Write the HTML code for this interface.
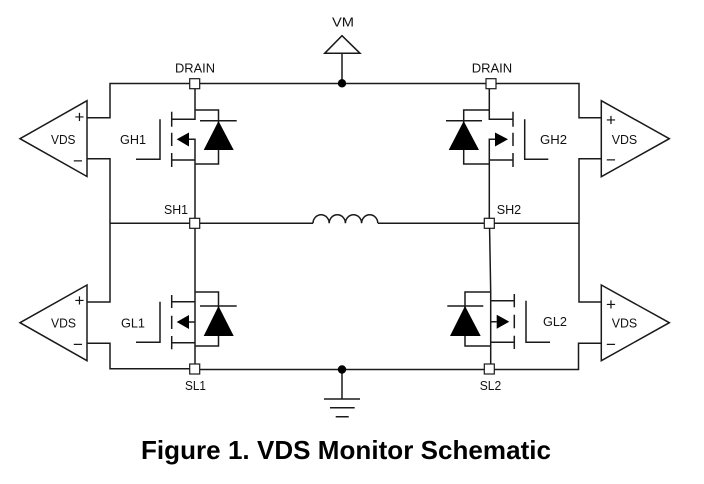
<!DOCTYPE html>
<html>
<head>
<meta charset="utf-8">
<style>
html,body{margin:0;padding:0;background:#fff;width:704px;height:484px;overflow:hidden}
svg{display:block}
.w{fill:none;stroke:#1a1a1a;stroke-width:1.5}
.t{font-family:"Liberation Sans",sans-serif;font-size:13.2px;fill:#111}
.s{font-family:"Liberation Sans",sans-serif;font-size:17px;fill:#111;text-anchor:middle}
</style>
</head>
<body>
<svg width="704" height="484" viewBox="0 0 704 484" xmlns="http://www.w3.org/2000/svg">
<rect width="704" height="484" fill="#fff"/>
<!-- main wires -->
<g class="w">
<path d="M87 117.7H110V83.5H489M489 83.5H579V117.7H601"/>
<path d="M87 158.7H110V302H87"/>
<path d="M87 343.3H110V368.7H195V369.5H489.3H578.5V343.3H601"/>
<path d="M601 158.7H579V302H601"/>
<path d="M110 223.3H313M378 223.3H579"/>
<path d="M313 223.3A8.1 8.6 0 0 1 329.2 223.3A8.1 8.6 0 0 1 345.4 223.3A8.1 8.6 0 0 1 361.6 223.3A8.1 8.6 0 0 1 377.8 223.3"/>
<!-- VM -->
<path d="M342 35.7L360 53.3H324.7Z"/>
<path d="M342 53.3V83.5"/>
<!-- GND -->
<path d="M342 369.5V399M324 399H360M330 407.7H354.7M335.7 416.7H348.7"/>
<!-- amps -->
<path d="M20 138.7L87 100.7V176.5Z"/>
<path d="M20 322.7L87 285V360.7Z"/>
<path d="M669.3 138.7L601.3 100.7V176.7Z"/>
<path d="M669.3 322.7L601.3 285V360.7Z"/>
<!-- FET GH1 -->
<path d="M195 83.5V119.3H171.7M195 110H218.5V125M218.5 148V164H195M171.7 111.7V126.7M171.7 132.7V146M171.7 153V167M160 119.3V159.3H136M189 139.3H195V223.3M171.7 160H195M200 120.7H236.7"/>
<!-- FET GL1 -->
<path d="M195 223.3V368.7M195 301.7H171.7M195 292H218.5V310M218.5 334V346H195M171.7 295V308M171.7 315.7V329M171.7 336V349.3M160 301.7V342.3H136M189 322H195M171.7 342.7H195M200 306H236.7"/>
<!-- FET GH2 -->
<path d="M489.3 83.5V119.3H513M489.3 110H463.7V125M463.7 148V164H489.3M513 111.7V126.7M513 132.7V146M513 153V167M524.7 119.3V159.3H548.3M495 139.3H489.3V223.3M489.3 160H513M446 120.7H482"/>
<!-- FET GL2 -->
<path d="M489.5 223.3L490.7 292V369M490.7 300.7H514.3M490.7 292H465V310M465 334V346H490.7M514.3 294V307.3M514.3 314.7V328.3M514.3 335.7V349M526 300.7V342.3H550M496.7 321.7H490.7M490.7 342.3H514.3M447.3 306H483.3"/>
</g>
<!-- diodes and body arrows -->
<g fill="#000">
<path d="M218.5 121L233.7 150H203.7Z"/>
<path d="M218.5 306L233.7 336H203.7Z"/>
<path d="M463.7 121L479 150H448.7Z"/>
<path d="M465 306L480.7 336H450Z"/>
<path d="M176.7 139.3L189 132.5V146.5Z"/>
<path d="M176.7 322L189 315V329Z"/>
<path d="M508 139.3L495 132.5V146.5Z"/>
<path d="M509.3 321.7L496.7 314.7V328.7Z"/>
<circle cx="342" cy="83.3" r="4.2"/>
<circle cx="342" cy="369.5" r="4.2"/>
</g>
<!-- node boxes -->
<g fill="#fff" stroke="#1a1a1a" stroke-width="1.2">
<rect x="189.7" y="78.7" width="10" height="10"/>
<rect x="486" y="78.7" width="10" height="10"/>
<rect x="189.7" y="218.3" width="10" height="10"/>
<rect x="484.3" y="218.3" width="10" height="10"/>
<rect x="189.7" y="364" width="10" height="10"/>
<rect x="484.3" y="364" width="10" height="10"/>
</g>
<!-- labels -->
<text class="t" x="332" y="26.7" textLength="22" lengthAdjust="spacingAndGlyphs">VM</text>
<text class="t" x="175" y="72.7" textLength="40" lengthAdjust="spacingAndGlyphs">DRAIN</text>
<text class="t" x="471.7" y="72.7" textLength="40.5" lengthAdjust="spacingAndGlyphs">DRAIN</text>
<text class="t" x="164" y="214" textLength="24" lengthAdjust="spacingAndGlyphs">SH1</text>
<text class="t" x="496.7" y="214" textLength="24.5" lengthAdjust="spacingAndGlyphs">SH2</text>
<text class="t" x="51" y="144" textLength="24.5" lengthAdjust="spacingAndGlyphs">VDS</text>
<text class="t" x="120" y="144" textLength="26" lengthAdjust="spacingAndGlyphs">GH1</text>
<text class="t" x="540" y="144" textLength="27" lengthAdjust="spacingAndGlyphs">GH2</text>
<text class="t" x="611.7" y="144" textLength="25.5" lengthAdjust="spacingAndGlyphs">VDS</text>
<text class="t" x="51" y="327.7" textLength="25" lengthAdjust="spacingAndGlyphs">VDS</text>
<text class="t" x="121" y="327.7" textLength="24" lengthAdjust="spacingAndGlyphs">GL1</text>
<text class="t" x="543" y="326" textLength="24" lengthAdjust="spacingAndGlyphs">GL2</text>
<text class="t" x="611.7" y="327.7" textLength="25.5" lengthAdjust="spacingAndGlyphs">VDS</text>
<text class="t" x="185" y="390" textLength="21" lengthAdjust="spacingAndGlyphs">SL1</text>
<text class="t" x="479.7" y="390" textLength="21.5" lengthAdjust="spacingAndGlyphs">SL2</text>
<!-- plus / minus -->
<text class="s" x="79.5" y="122.5">+</text>
<text class="s" x="78" y="166.5">−</text>
<text class="s" x="79.5" y="306">+</text>
<text class="s" x="78" y="350">−</text>
<text class="s" x="611" y="125.5">+</text>
<text class="s" x="611" y="165.5">−</text>
<text class="s" x="611" y="310">+</text>
<text class="s" x="611" y="350">−</text>
<!-- caption -->
<text x="141" y="459" font-family="'Liberation Sans',sans-serif" font-weight="bold" font-size="26" fill="#000" textLength="410" lengthAdjust="spacing">Figure 1. VDS Monitor Schematic</text>
</svg>
</body>
</html>
